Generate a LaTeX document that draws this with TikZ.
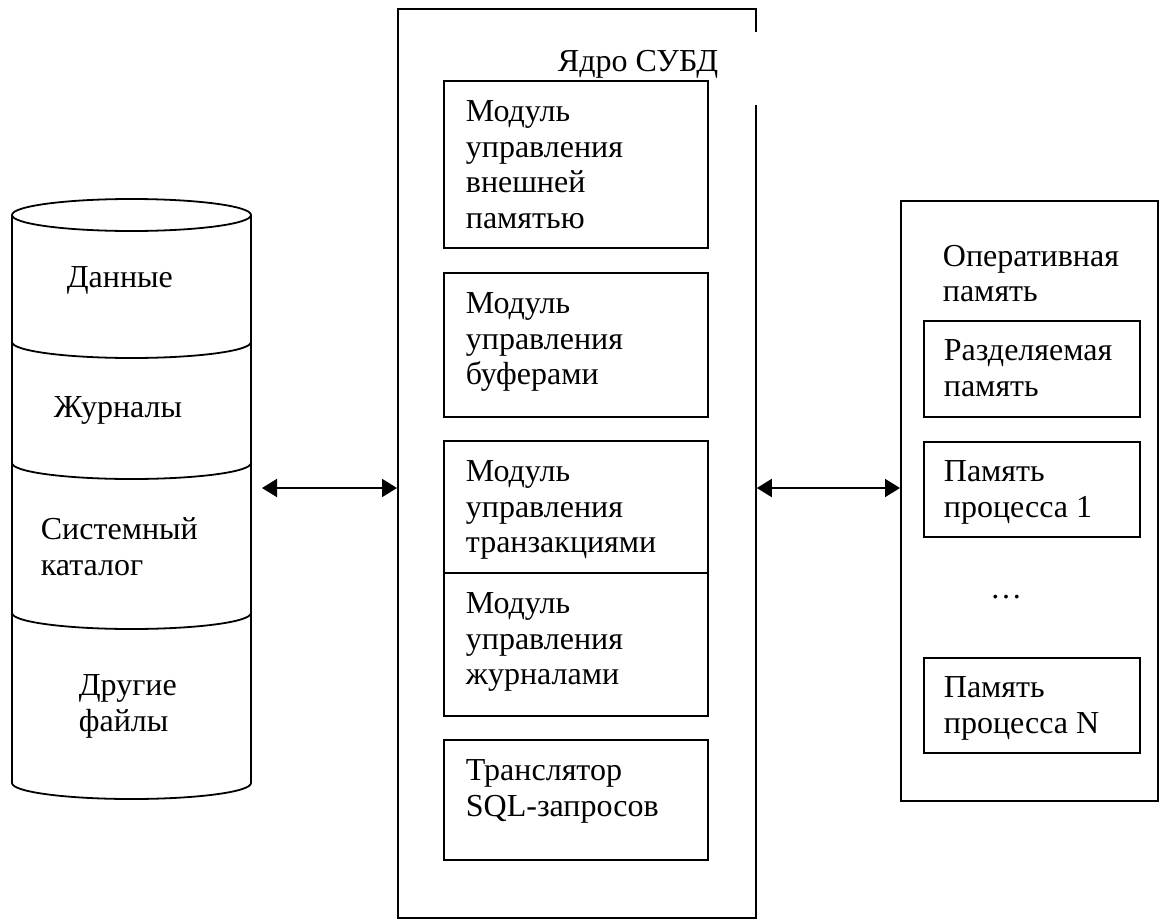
\documentclass[tikz,border=0pt]{standalone}
\usepackage{fontspec}
\setmainfont{Liberation Serif}
\usetikzlibrary{arrows.meta}
\begin{document}
\begin{tikzpicture}[x=0.5pt,y=-0.5pt,line width=0.9pt,
	every node/.style={inner sep=0},
	box/.style={draw,anchor=north west,minimum width=#1},
	txt/.style={font=\fontsize{16}{17.75}\selectfont,align=left,anchor=north west},
	link/.style={{Triangle[length=7.5pt,width=9pt]}-{Triangle[length=7.5pt,width=9pt]}}]
\useasboundingbox (0,0) rectangle (1159,920);
% disk
\draw (12,215) -- (12,783) arc[start angle=180,end angle=0,x radius=119.5,y radius=16] -- (251,215);
\draw (131.5,215) ellipse [x radius=119.5,y radius=16];
\foreach \y in {342,463,613}
	\draw (12,\y) arc[start angle=180,end angle=0,x radius=119.5,y radius=16];
\node[txt,anchor=base west] (data) at (66,287) {Данные};
\node[txt,anchor=base west] (logs) at (53,417) {Журналы};
\node[txt] (catalog) at (40,517) {Системный\\каталог};
\node[txt] (other) at (78,674) {Другие\\файлы};
% core
\node[box=179pt,minimum height=454.5pt] (core) at (397,8) {};
\fill[white] (553,32) rectangle (760,105);
\node[txt,anchor=base west] (coretitle) at (557,72) {Ядро СУБД};
\node[box=132pt,minimum height=83.5pt] (m1) at (443,80) {};
\node[box=132pt,minimum height=72pt] (m2) at (443,272) {};
\node[box=132pt,minimum height=66pt] (m3) at (443,440) {};
\node[box=132pt,minimum height=71.5pt] (m4) at (443,572) {};
\node[box=132pt,minimum height=60pt] (m5) at (443,739) {};
\node[txt] (m1t) at ([shift={(22,20)}]m1.north west) {Модуль\\управления\\внешней\\памятью};
\node[txt] (m2t) at ([shift={(22,20)}]m2.north west) {Модуль\\управления\\буферами};
\node[txt] (m3t) at ([shift={(22,20)}]m3.north west) {Модуль\\управления\\транзакциями};
\node[txt] (m4t) at ([shift={(22,20)}]m4.north west) {Модуль\\управления\\журналами};
\node[txt] (m5t) at ([shift={(22,20)}]m5.north west) {Транслятор\\SQL-запросов};
% memory
\node[box=128.5pt,minimum height=300pt] (ram) at (900,200) {};
\node[txt] (ramtitle) at (942,244) {Оперативная\\память};
\node[box=108pt,minimum height=48pt] (r1) at (923,320) {};
\node[box=108pt,minimum height=47.5pt] (r2) at (923,441) {};
\node[box=108pt,minimum height=47.5pt] (rn) at (923,657) {};
\node[txt] (r1t) at ([shift={(20,19)}]r1.north west) {Разделяемая\\память};
\node[txt] (r2t) at ([shift={(20,19)}]r2.north west) {Память\\процесса 1};
\node[txt] (rnt) at ([shift={(20,19)}]rn.north west) {Память\\процесса N};
\node[txt,anchor=base] (dots) at (1006,598) {…};
% links
\coordinate (disk) at (262,488);
\draw[link] (disk) -- (core.west |- disk);
\draw[link] (core.east |- disk) -- (ram.west |- disk);
\end{tikzpicture}
\end{document}
